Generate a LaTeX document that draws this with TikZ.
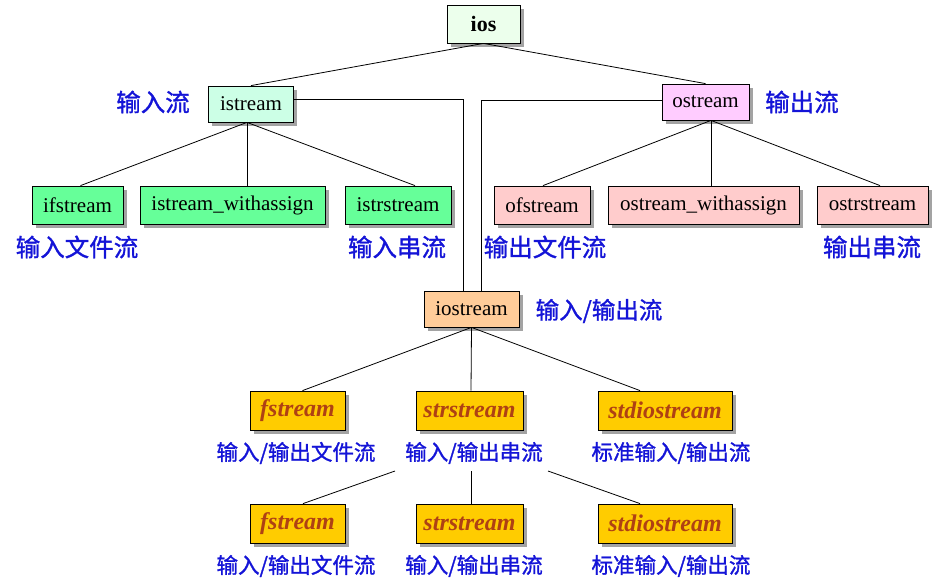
\documentclass[tikz,border=0pt]{standalone}
\usepackage{fontspec}
\setmainfont{Liberation Serif}
\newfontfamily\cjk[FakeBold=1.2]{Noto Sans CJK SC}
\usetikzlibrary{shadows}
\definecolor{lblblue}{RGB}{20,20,215}
\definecolor{iosfill}{RGB}{236,255,236}
\definecolor{mint}{RGB}{204,255,230}
\definecolor{greenbox}{RGB}{102,255,153}
\definecolor{pinkbox}{RGB}{255,204,204}
\definecolor{magbox}{RGB}{255,204,255}
\definecolor{orangebox}{RGB}{255,204,153}
\definecolor{yellowbox}{RGB}{255,204,0}
\definecolor{yeltext}{RGB}{175,65,20}
\tikzset{
  box/.style={draw=black, line width=0.8pt, inner sep=0pt, minimum height=38pt,
    font=\fontsize{21}{23}\selectfont,
    drop shadow={shadow xshift=3.5pt, shadow yshift=-3.5pt, fill=black!45, opacity=0.8}},
  ybox/.style={box, fill=yellowbox, minimum height=39pt,
    font=\fontsize{24}{26}\selectfont\bfseries\itshape, text=yeltext},
  lbl/.style={font=\cjk\fontsize{24.5}{26}\selectfont, text=lblblue, inner sep=0pt},
  slbl/.style={lbl, font=\cjk\fontsize{21.5}{23}\selectfont},
  conn/.style={draw=black, line width=0.8pt}
}
\begin{document}
\begin{tikzpicture}[x=1pt,y=-1pt]
\useasboundingbox (0,0) rectangle (939,584);
\coordinate (b1) at (395,471);
\coordinate (b2) at (471,471);
\coordinate (b3) at (548,471);

% nodes
\node[box, fill=iosfill, minimum width=73pt, font=\fontsize{22}{24}\selectfont\bfseries] (ios) at (483.5,24) {ios};
\node[box, fill=mint, minimum width=85pt, minimum height=36pt] (istream) at (251,104) {istream};
\node[box, fill=magbox, minimum width=87pt, minimum height=36pt] (ostream) at (705.5,102) {ostream};

\node[box, fill=greenbox, minimum width=91pt] (ifs) at (77.5,205) {ifstream};
\node[box, fill=greenbox, minimum width=185pt] (isw) at (232.5,205) {istream\_withassign};
\node[box, fill=greenbox, minimum width=106pt] (isss) at (398,205) {istrstream};

\node[box, fill=pinkbox, minimum width=96pt] (ofs) at (542,205) {ofstream};
\node[box, fill=pinkbox, minimum width=191pt] (osw) at (703.5,205) {ostream\_withassign};
\node[box, fill=pinkbox, minimum width=111pt] (osss) at (872.5,205) {ostrstream};

\node[box, fill=orangebox, minimum width=95pt, minimum height=36pt] (iostream) at (471.5,309) {iostream};

\node[ybox, minimum width=95pt] (fs1) at (297.5,410.5) {fstream};
\node[ybox, minimum width=107pt] (ss1) at (469.5,410.5) {strstream};
\node[ybox, minimum width=134pt] (sd1) at (665,410.5) {stdiostream};

\node[ybox, minimum width=95pt] (fs2) at (297.5,523.5) {fstream};
\node[ybox, minimum width=107pt] (ss2) at (469.5,523.5) {strstream};
\node[ybox, minimum width=134pt] (sd2) at (665,523.5) {stdiostream};

% connectors
\draw[conn] (ios.south) -- (istream.north);
\draw[conn] (ios.south) -- (ostream.north);
\draw[conn] ([xshift=-4pt]istream.south) -- ([xshift=3pt]ifs.north);
\draw[conn] ([xshift=-4pt]istream.south) -- ([xshift=14.5pt]isw.north);
\draw[conn] ([xshift=-4pt]istream.south) -- ([xshift=17pt]isss.north);
\draw[conn] ([xshift=5.5pt]ostream.south) -- ([xshift=1pt]ofs.north);
\draw[conn] ([xshift=5.5pt]ostream.south) -- ([xshift=7.5pt]osw.north);
\draw[conn] ([xshift=5.5pt]ostream.south) -- ([xshift=7.5pt]osss.north);
\draw[conn] ([yshift=5pt]istream.east) -| ([xshift=-8.5pt]iostream.north);
\draw[conn] ([yshift=2pt]ostream.west) -| ([xshift=9.5pt]iostream.north);
\draw[conn] (iostream.south) -- ([xshift=5pt]fs1.north);
\draw[conn] (iostream.south) -- ([xshift=1.5pt]ss1.north);
\draw[conn] (iostream.south) -- ([xshift=-25pt]sd1.north);
\draw[conn] (b1) -- ([xshift=5.5pt]fs2.north);
\draw[conn] (b2) -- ([xshift=1.5pt]ss2.north);
\draw[conn] (b3) -- ([xshift=-25pt]sd2.north);

% labels
\node[lbl] (l1) at (153,102) {输入流};
\node[lbl] (l2) at (802,102) {输出流};
\node[lbl] (l3) at (77,247) {输入文件流};
\node[lbl] (l4) at (397,247) {输入串流};
\node[lbl] (l5) at (545,247) {输出文件流};
\node[lbl] (l6) at (872,247) {输出串流};
\node[lbl, font=\cjk\fontsize{23.5}{25}\selectfont] (l7) at (599,311) {输入/输出流};
\node[slbl] (l8) at (296,453) {输入/输出文件流};
\node[slbl] (l9) at (474,453) {输入/输出串流};
\node[slbl] (l10) at (671,453) {标准输入/输出流};
\node[slbl] (l11) at (296,566) {输入/输出文件流};
\node[slbl] (l12) at (474,566) {输入/输出串流};
\node[slbl] (l13) at (671,566) {标准输入/输出流};
\end{tikzpicture}
\end{document}
